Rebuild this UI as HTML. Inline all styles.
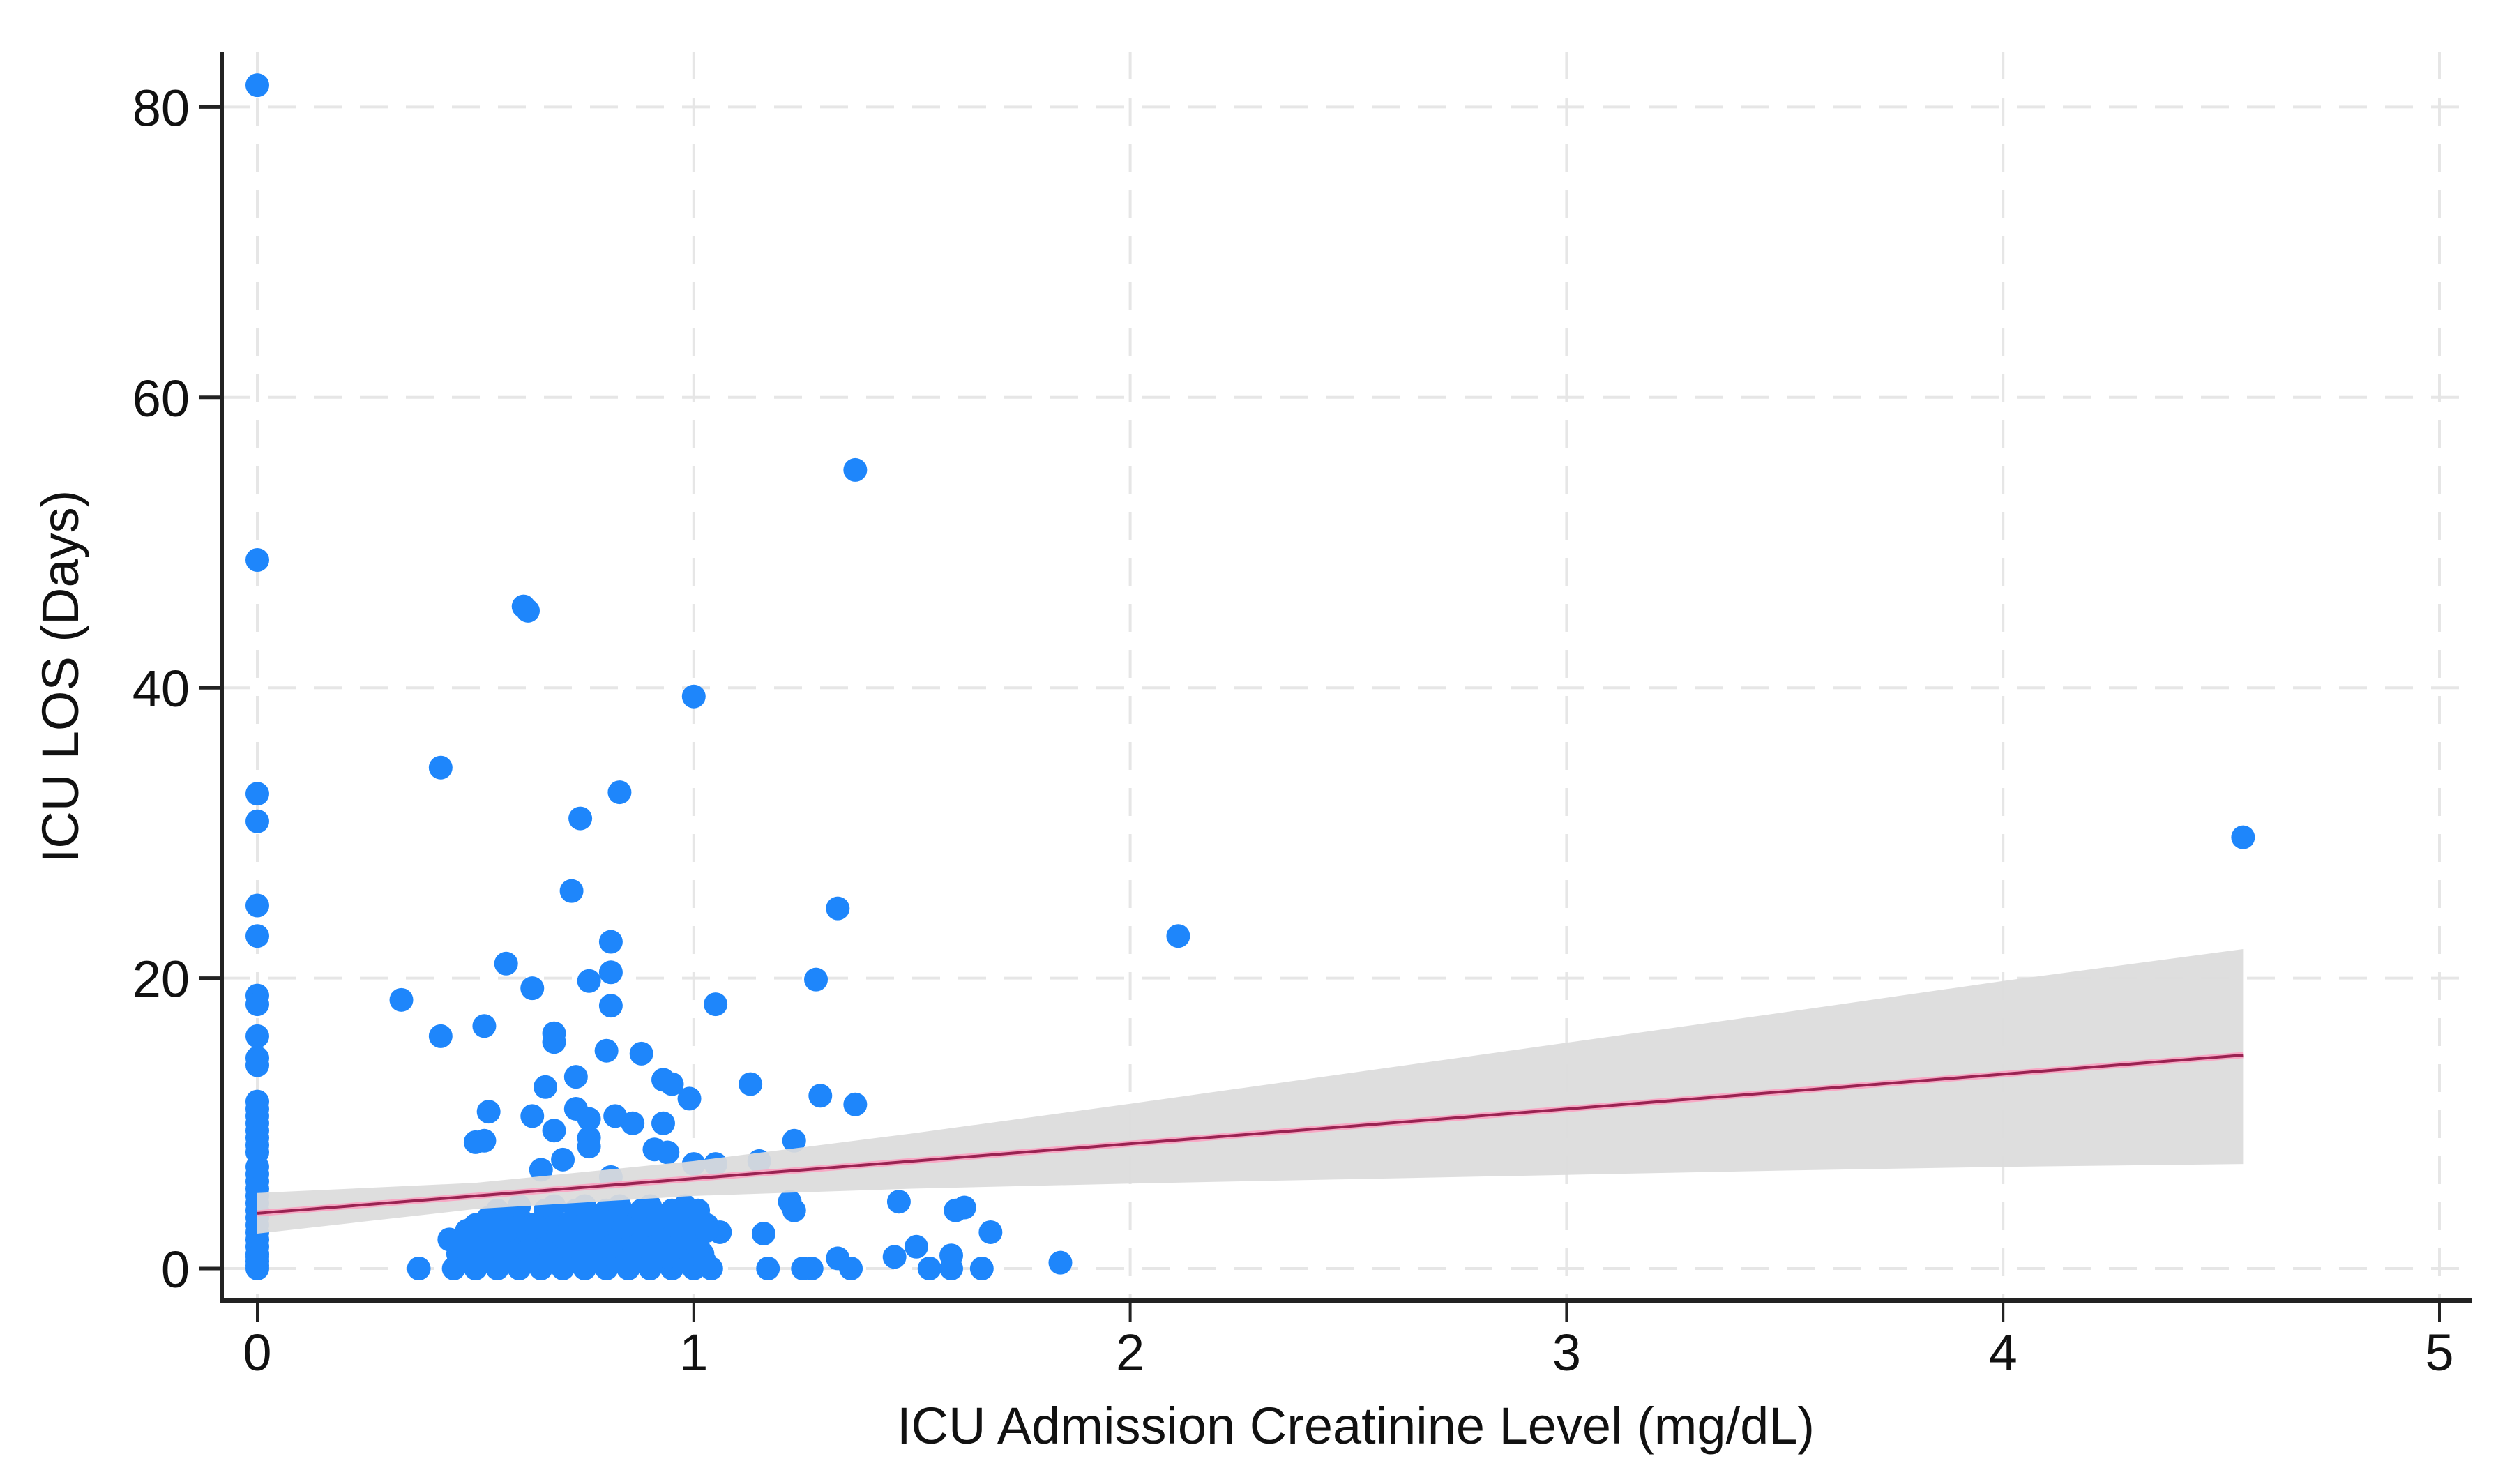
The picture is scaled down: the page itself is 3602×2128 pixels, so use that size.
<!DOCTYPE html>
<html><head><meta charset="utf-8"><style>
html,body{margin:0;padding:0;background:#fff}
svg{display:block}
text{font-family:"Liberation Sans",Arial,sans-serif;fill:#111}
</style></head><body>
<svg id="chart" width="3602" height="2128" viewBox="0 0 3602 2128" xmlns="http://www.w3.org/2000/svg">
<rect width="3602" height="2128" fill="#fff"/>
<g id="grid"></g>
<g id="points"></g>
<g id="fit"></g>
<g id="axes"></g>
<text x="1944" y="2070" text-anchor="middle" font-size="74">ICU Admission Creatinine Level (mg/dL)</text>
<text transform="translate(112,970) rotate(-90)" text-anchor="middle" font-size="74">ICU LOS (Days)</text>
</svg>
<script>
const xTicks=[0,1,2,3,4,5];
const yTicks=[0,20,40,60,80];
const ptX=[0,0,0,0,0,0,0,0,0,0,0,0,0,0,0,0,0,0,0,0,0,0,0,0,
0,0,0,0,0,0,0,0,0,0,0,0,
1.37,0.62,0.61,1.0,0.42,0.83,0.74,0.72,1.33,2.11,4.55,0.81,0.57,0.81,0.76,0.63,1.28,0.33,1.05,0.81,0.42,0.52,0.68,0.68,0.8,0.88,0.93,0.95,1.13,0.73,0.66,1.29,1.37,0.99,0.53,0.63,0.73,0.76,0.82,0.86,0.93,0.68,0.76,0.5,0.52,0.76,0.91,0.94,1.23,0.7,1.0,1.05,1.15,0.65,0.81,1.47,1.6,1.62,1.22,1.23,1.16,1.68,1.51,1.46,1.33,1.84,1.59,1.27,1.25,1.17,1.36,1.54,1.59,1.66,0.37,
0.45,0.5,0.55,0.6,0.65,0.7,0.75,0.8,0.85,0.9,0.95,1.0,1.04,
0.46,0.52,0.56,0.62,0.66,0.72,0.76,0.82,0.86,0.92,0.96,1.02,
0.44,0.49,0.54,0.59,0.64,0.69,0.74,0.79,0.84,0.89,0.94,0.99,1.06,
0.5,0.57,0.63,0.7,0.77,0.83,0.89,0.97,1.03,
0.55,0.66,0.73,0.8,0.88,0.95,1.01,
0.475,0.525,0.575,0.625,0.675,0.725,0.775,0.825,0.875,0.925,0.975,1.025,
0.47,0.53,0.58,0.61,0.67,0.71,0.78,0.81,0.87,0.91,0.97,1.01,
0.48,0.53,0.57,0.62,0.68,0.72,0.77,0.83,0.87,0.93,0.98,1.03,
0.53,0.6,0.67,0.73,0.8,0.86,0.92,0.99,
0.6,0.68,0.75,0.83,0.9,0.98,
0.62,0.7,0.78,0.86,0.94,
0.52,0.64,0.74,0.84,0.96];
const ptY=[81.5,48.8,32.7,30.8,25,22.9,18.8,18.2,16,14.5,14,11.5,10.5,9.5,8.5,6.5,6,4,3,2,1.5,1,0.5,0,
11,10,9,8,7,5.5,5,4.5,3.5,2.5,0.8,0.2,
55,45.3,45.6,39.4,34.5,32.8,31,26,24.8,22.9,29.7,22.5,21,20.4,19.8,19.3,19.9,18.5,18.2,18.1,16,16.7,16.2,15.6,15,14.8,13,12.7,12.7,13.2,12.5,11.9,11.3,11.7,10.8,10.5,11,10.3,10.5,10,10,9.5,9,8.7,8.8,8.4,8.2,8,8.8,7.5,7.2,7.2,7.4,6.8,6.3,4.6,4.0,4.2,4.6,4,2.4,2.5,1.5,0.8,0.7,0.4,0.9,0,0,0,0,0,0,0,0,
0,0,0,0,0,0,0,0,0,0,0,0,0,
1,1,1,1,1,1,1,1,1,1,1,1,
2,2,2,2,2,2,2,2,2,2,2,2,2.5,
3,3,3,3,3,3,3,3,3,
4,4,4,4,4,4,4,
0.5,0.5,0.5,0.5,0.5,0.5,0.5,0.5,0.5,0.5,0.5,0.5,
1.5,1.5,1.5,1.5,1.5,1.5,1.5,1.5,1.5,1.5,1.5,1.5,
2.6,2.6,2.6,2.6,2.6,2.6,2.6,2.6,2.6,2.6,2.6,2.6,
3.5,3.5,3.5,3.5,3.5,3.5,3.5,3.5,
4.3,4.3,4.3,4.3,4.3,4.3,
1.2,2.2,3.2,1.8,0.8,
2.9,2.9,2.9,2.9,2.9];
const bandX=[0,0.5,1,1.5,2,2.5,3,3.5,4,4.55];
const bandLow=[2.4,4.1,5.0,5.5,5.85,6.15,6.45,6.75,7.0,7.2];
const bandHigh=[5.2,5.9,7.4,9.3,11.35,13.45,15.55,17.65,19.8,22.0];
const fitX=[0,4.55];
const fitY=[3.8,14.7];

const X0=369,XU=625.8,Y0=1819,YU=20.82;
const sx=v=>X0+v*XU, sy=v=>Y0-v*YU;
const NS='http://www.w3.org/2000/svg';
function mk(tag,parent,attrs){const e=document.createElementNS(NS,tag);for(const k in attrs)e.setAttribute(k,attrs[k]);parent.appendChild(e);return e;}
const gridG=document.getElementById('grid'),ptsG=document.getElementById('points'),fitG=document.getElementById('fit'),axesG=document.getElementById('axes');
const plotL=318,plotR=3545,plotT=74,plotB=1865;
xTicks.forEach(t=>{const l=mk('line',gridG,{x1:sx(t),x2:sx(t),y1:plotT,y2:plotB,stroke:'#e6e6e6','stroke-width':4,'stroke-dasharray':'40 26'});

});
yTicks.forEach(t=>{const l=mk('line',gridG,{x1:plotL,x2:plotR,y1:sy(t),y2:sy(t),stroke:'#e6e6e6','stroke-width':4,'stroke-dasharray':'40 26'});

});
for(let i=0;i<ptX.length;i++){const c=mk('circle',ptsG,{cx:sx(ptX[i]),cy:sy(ptY[i]),r:17,fill:'#1e86fb'});

}
let d='';bandX.forEach((x,i)=>{d+=(i?'L':'M')+sx(x)+','+sy(bandHigh[i]);});
for(let i=bandX.length-1;i>=0;i--)d+='L'+sx(bandX[i])+','+sy(bandLow[i]);
const band=mk('path',fitG,{d:d+'Z',fill:'#dcdcdc','fill-opacity':0.93});


const halo=mk('line',fitG,{x1:sx(fitX[0]),y1:sy(fitY[0]),x2:sx(fitX[1]),y2:sy(fitY[1]),stroke:'#f7a8c4','stroke-width':9});


const fl=mk('line',fitG,{x1:sx(fitX[0]),y1:sy(fitY[0]),x2:sx(fitX[1]),y2:sy(fitY[1]),stroke:'#9a2352','stroke-width':4});


const ya=mk('line',axesG,{x1:plotL,x2:plotL,y1:plotT,y2:plotB+3,stroke:'#222','stroke-width':6});


const xa=mk('line',axesG,{x1:plotL-3,x2:plotR,y1:plotB,y2:plotB,stroke:'#222','stroke-width':6});


xTicks.forEach(t=>{const l=mk('line',axesG,{x1:sx(t),x2:sx(t),y1:plotB,y2:plotB+30,stroke:'#222','stroke-width':4});


const tx=mk('text',axesG,{x:sx(t),y:1965,'text-anchor':'middle','font-size':74});tx.textContent=t;

});
yTicks.forEach(t=>{const l=mk('line',axesG,{x1:plotL-32,x2:plotL,y1:sy(t),y2:sy(t),stroke:'#222','stroke-width':5});


const tx=mk('text',axesG,{x:272,y:sy(t)+27,'text-anchor':'end','font-size':74});tx.textContent=t;

});
</script>
</body></html>
